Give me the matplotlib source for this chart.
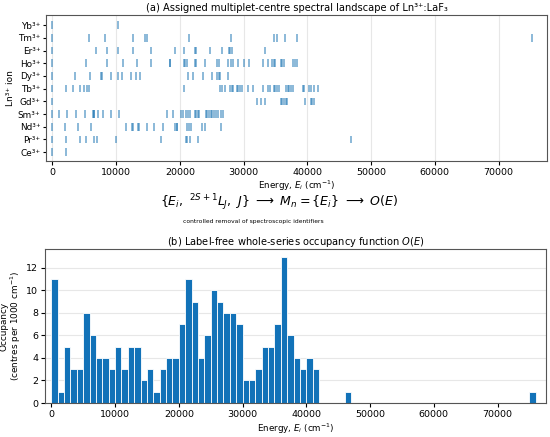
import numpy as np
import matplotlib

matplotlib.use("Agg")
import matplotlib.pyplot as plt

# ions, bottom to top
ions = ["Ce³⁺", "Pr³⁺", "Nd³⁺", "Sm³⁺", "Gd³⁺", "Tb³⁺", "Dy³⁺", "Ho³⁺", "Er³⁺", "Tm³⁺", "Yb³⁺"]

# multiplet centres (cm^-1)
ce_levels = [0, 2200]
pr_levels = [0, 2200, 4400, 5200, 6500, 7000, 10000, 17100, 20900, 21200, 21600, 22800, 46900]
nd_levels = [0, 2000, 4000, 6000, 11600, 12500, 12600, 13500, 13600, 14800, 16000, 17300,
             19200, 19500, 19600, 21100, 21500, 21800, 23400, 23900, 26400]
sm_levels = [0, 1100, 2300, 3700, 5100, 6300, 6500, 6600, 7100, 8000, 9200, 10500,
             18000, 18900, 20200, 20500, 20900, 21300, 21600, 22300, 22500, 22800, 23000,
             24100, 24300, 24600, 24900, 25100, 25400, 25600, 26000, 26400, 26800]
gd_levels = [0, 32100, 32700, 33300, 35900, 36100, 36400, 36600, 36800, 39700, 40600,
             40800, 41100]
tb_levels = [0, 2100, 3300, 4300, 5000, 5400, 5700, 20600, 26300, 26600, 27100, 27900,
             28200, 28400, 29000, 29200, 29500, 29700, 30700, 31400, 33000, 33900, 34200,
             34700, 35000, 35200, 35500, 36600, 36900, 37100, 37400, 37700, 39300, 39500,
             40300, 40600, 41000, 41700]
dy_levels = [0, 3600, 5900, 7700, 7800, 9200, 10300, 11000, 12400, 13100, 13700, 21300,
             22100, 23600, 25100, 25800, 26100, 26300, 27500]
ho_levels = [0, 5200, 8600, 11100, 13300, 15500, 18400, 18500, 20600, 20800, 21200, 22300,
             22500, 23900, 25800, 26100, 27600, 28000, 28300, 29100, 30000, 30900, 33000,
             33900, 34500, 34800, 35000, 35900, 36100, 36400, 37800, 38100, 38300]
er_levels = [0, 6800, 8600, 10300, 12600, 15500, 19300, 20700, 22300, 22500, 24800, 26600,
             27700, 27900, 28200, 33300]
tm_levels = [0, 5750, 8300, 12700, 14500, 14800, 21400, 28100, 34800, 35300, 36500, 38300,
             75300]
yb_levels = [0, 10300]

# occupancy per 1000 cm^-1 bin (left edge of bin, count)
occ_bin_start = list(range(0, 42000, 1000)) + [46000, 75000]
occ_counts = [11, 1, 5, 3, 3, 8, 6, 4, 4, 3,
              5, 3, 5, 5, 2, 3, 1, 3, 4, 4,
              7, 11, 9, 4, 6, 10, 9, 8, 8, 7,
              2, 2, 3, 5, 5, 7, 13, 6, 4, 3,
              4, 3,
              1, 1]

levels = [ce_levels, pr_levels, nd_levels, sm_levels, gd_levels, tb_levels,
          dy_levels, ho_levels, er_levels, tm_levels, yb_levels]

plt.rcParams["font.family"] = ["DejaVu Sans"]
plt.rcParams["axes.edgecolor"] = "#555555"

fig = plt.figure(figsize=(5.5, 4.37), dpi=100)
XLIM = (-1000, 77600)

# --- (a) spectral landscape
ax1 = fig.add_axes([0.0836, 0.6316, 0.911, 0.334])
ax1.eventplot(levels, lineoffsets=np.arange(len(ions)), linelengths=0.6,
              linewidths=1.1, colors="#1f77b4", alpha=0.65)
ax1.set_yticks(np.arange(len(ions)))
ax1.set_yticklabels(ions)
ax1.set_ylim(-0.7, 10.8)
ax1.set_xlim(*XLIM)
ax1.set_ylabel("Ln³⁺ ion", fontsize=6.5, labelpad=2)
ax1.set_xlabel("Energy, $E_i$ (cm$^{-1}$)", fontsize=6.3, labelpad=1.5)
ax1.set_title("(a) Assigned multiplet-centre spectral landscape of Ln³⁺:LaF₃",
              fontsize=7.1, pad=3)
ax1.tick_params(axis="x", labelsize=6.8, length=3, pad=2)
ax1.tick_params(axis="y", labelsize=6.4, length=2.5, pad=1.5)
ax1.grid(axis="x", alpha=0.3)
ax1.set_axisbelow(True)

# --- bridge text
fig.text(0.507, 1 - 203 / 437,
         r"$\{E_i,\ {}^{2S+1}L_J,\ J\}\ \longrightarrow\ M_n=\{E_i\}\ \longrightarrow\ O(E)$",
         ha="center", va="center", fontsize=9)
fig.text(0.46, 1 - 221 / 437, "controlled removal of spectroscopic identifiers",
         ha="center", va="center", fontsize=4.3)

# --- (b) occupancy
ax2 = fig.add_axes([0.0818, 0.0778, 0.911, 0.352])
ax2.bar(occ_bin_start, occ_counts, width=1000, align="edge",
        color="#1272b8", edgecolor="white", linewidth=0.6)
ax2.set_xlim(*XLIM)
ax2.set_ylim(0, 13.65)
ax2.set_yticks(np.arange(0, 13, 2))
ax2.set_xlabel("Energy, $E_i$ (cm$^{-1}$)", fontsize=6.3, labelpad=2)
ax2.set_ylabel("Occupancy\n(centres per 1000 cm$^{-1}$)", fontsize=6.4, labelpad=2,
               linespacing=1.05)
ax2.set_title("(b) Label-free whole-series occupancy function $O(E)$", fontsize=7.1, pad=3)
ax2.tick_params(labelsize=6.8, length=3, pad=2)
ax2.grid(axis="y", alpha=0.3)
ax2.set_axisbelow(True)

fig.savefig("out.png", dpi=100)
